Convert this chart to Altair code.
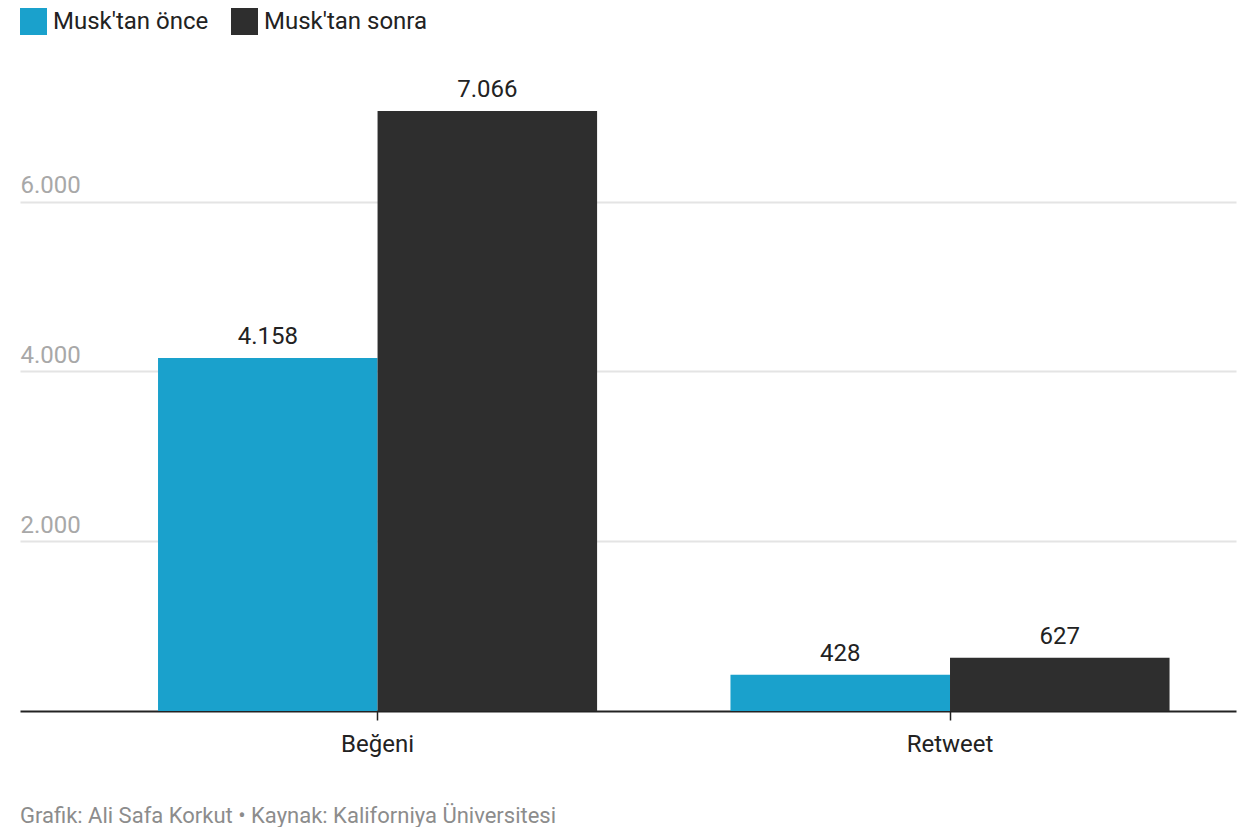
import altair as alt
import pandas as pd

categories = ["Beğeni", "Retweet"]
series = ["Musk'tan önce", "Musk'tan sonra"]
before = [4158, 428]
after = [7066, 627]
colors = ["#1aa1cc", "#2e2e2e"]
y_ticks = [2000, 4000, 6000]
footer = "Grafik: Ali Safa Korkut • Kaynak: Kaliforniya Üniversitesi"

rows = []
for i, c in enumerate(categories):
    rows.append({"cat": c, "series": series[0], "value": before[i], "order": 0})
    rows.append({"cat": c, "series": series[1], "value": after[i], "order": 1})
df = pd.DataFrame(rows)

FONT = "Roboto"
FS = 24

base = alt.Chart(df).transform_calculate(
    label="replace(format(datum.value, ','), ',', '.')"
)

x_enc = alt.X(
    "cat:N",
    sort=categories,
    scale=alt.Scale(paddingInner=0.233, paddingOuter=0.1786, align=0.675),
    axis=alt.Axis(
        title=None,
        labelAngle=0,
        labelFontSize=FS,
        labelFont=FONT,
        labelColor="#222222",
        labelPadding=12,
        domainColor="#222222",
        domainWidth=2,
        tickColor="#222222",
        tickWidth=1.5,
        tickSize=9,
        grid=False,
    ),
)
xoff = alt.XOffset("series:N", sort=series, scale=alt.Scale(paddingInner=0, paddingOuter=0))

bars = base.mark_bar().encode(
    x=x_enc,
    xOffset=xoff,
    y=alt.Y(
        "value:Q",
        scale=alt.Scale(domain=[0, 7066], nice=False),
        axis=alt.Axis(
            title=None,
            values=y_ticks,
            labelExpr="replace(format(datum.value, ','), ',', '.')",
            labelAlign="left",
            labelBaseline="alphabetic",
            labelPadding=0,
            labelOffset=-9,
            labelFontSize=FS,
            labelFont=FONT,
            labelColor="#a8a8a8",
            domain=False,
            ticks=False,
            tickSize=0,
            grid=True,
            gridColor="#e4e4e4",
            gridWidth=2,
        ),
    ),
    color=alt.Color(
        "series:N",
        sort=series,
        scale=alt.Scale(domain=series, range=colors),
        legend=alt.Legend(
            title=None,
            orient="none",
            legendX=0,
            legendY=-103,
            direction="horizontal",
            symbolType="square",
            symbolSize=729,
            symbolStrokeWidth=0,
            symbolOpacity=1,
            labelFontSize=FS,
            labelFont=FONT,
            labelColor="#222222",
            labelOffset=6,
            labelLimit=400,
            columnPadding=22,
            padding=0,
        ),
    ),
)

texts = base.mark_text(
    baseline="alphabetic", dy=-14, fontSize=FS, font=FONT, color="#222222"
).encode(
    x=alt.X("cat:N", sort=categories),
    xOffset=xoff,
    y=alt.Y("value:Q"),
    text="label:N",
)

chart = (
    alt.layer(bars, texts)
    .properties(
        width=1216,
        height=600,
        autosize=alt.AutoSizeParams(type="none"),
        padding={"left": 12, "top": 103, "right": 12, "bottom": 116},
        title=alt.Title(
            footer,
            orient="bottom",
            anchor="start",
            frame="group",
            fontSize=22,
            font=FONT,
            fontWeight="normal",
            color="#8c8c8c",
            offset=50,
        ),
    )
    .configure_view(stroke=None)
)

chart.save("out.html", embed_options={"renderer": "svg", "actions": False})
